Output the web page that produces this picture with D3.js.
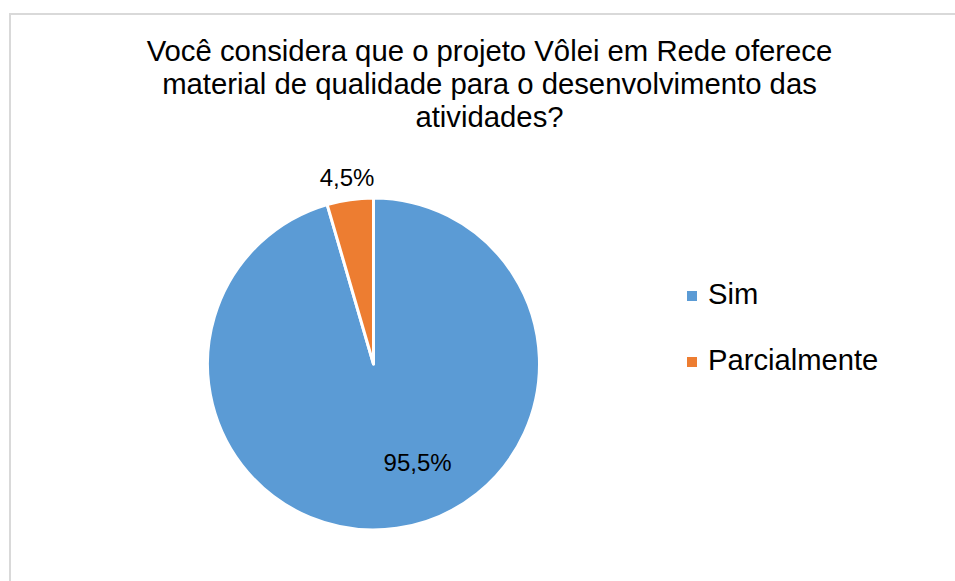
<!DOCTYPE html>
<html>
<head>
<meta charset="utf-8">
<script src="https://cdn.jsdelivr.net/npm/d3@7"></script>
<style>
  html, body { margin: 0; padding: 0; background: #fff; }
  svg { display: block; font-family: "Liberation Sans", Arial, sans-serif; }
</style>
</head>
<body>
<svg id="chart" width="955" height="581"></svg>
<script>
const titleLines = ["Você considera que o projeto Vôlei em Rede oferece",
                    "material de qualidade para o desenvolvimento das",
                    "atividades?"];
const categories = ["Sim", "Parcialmente"];
const values = [95.5, 4.5];
const labels = ["95,5%", "4,5%"];
const colors = ["#5B9BD5", "#ED7D31"];

const svg = d3.select("#chart");

// chart area border (only top and left visible in frame)
svg.append("rect")
  .attr("x", 10).attr("y", 14)
  .attr("width", 1000).attr("height", 700)
  .attr("fill", "none").attr("stroke", "#d9d9d9").attr("stroke-width", 2);

// title
svg.append("text")
  .attr("x", 489.5).attr("y", 61)
  .attr("text-anchor", "middle")
  .attr("font-size", 29.3).attr("fill", "#000")
  .selectAll("tspan").data(titleLines).join("tspan")
  .attr("x", 489.5).attr("dy", (d, i) => i === 0 ? 0 : 33)
  .text(d => d);

// pie
const cx = 373.5, cy = 364, r = 166;
const pie = d3.pie().sort(null).value(d => d);
const arcs = pie(values);
const arc = d3.arc().innerRadius(0).outerRadius(r);

const g = svg.append("g").attr("transform", `translate(${cx},${cy})`);
g.selectAll("path").data(arcs).join("path")
  .attr("d", arc)
  .attr("fill", (d, i) => colors[i])
  .attr("stroke", "#fff").attr("stroke-width", 3).attr("stroke-linejoin", "round");

// data labels
const inArc = d3.arc().innerRadius(100).outerRadius(100);
const outArc = d3.arc().innerRadius(188).outerRadius(188);
g.selectAll("text.lbl").data(arcs).join("text")
  .attr("class", "lbl")
  .attr("transform", (d, i) => {
    const c = i === 0 ? inArc.centroid(d) : outArc.centroid(d);
    const dx = i === 0 ? 30 : 0;
    return `translate(${c[0] + dx},${c[1]})`;
  })
  .attr("text-anchor", "middle")
  .attr("dy", "0.35em")
  .attr("font-size", 24).attr("fill", "#000")
  .text((d, i) => labels[i]);

// legend
const leg = svg.append("g");
const items = leg.selectAll("g").data(categories).join("g")
  .attr("transform", (d, i) => `translate(687,${304 + i * 66})`);
items.append("rect")
  .attr("x", 0).attr("y", -13).attr("width", 10).attr("height", 10)
  .attr("fill", (d, i) => colors[i]);
items.append("text")
  .attr("x", 21).attr("y", 0)
  .attr("font-size", 29.2).attr("fill", "#000")
  .text(d => d);
</script>
</body>
</html>
